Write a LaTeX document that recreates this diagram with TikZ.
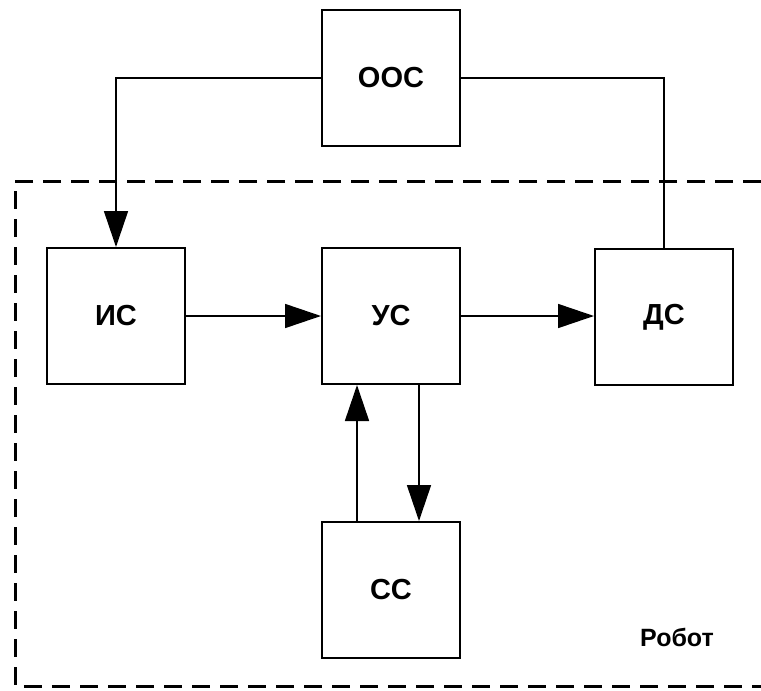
\documentclass[tikz,border=0pt]{standalone}
\usepackage{fontspec}
\setmainfont{Liberation Sans}
\usetikzlibrary{arrows.meta}
\begin{document}
\begin{tikzpicture}[x=0.5pt,y=-0.5pt,
  blk/.style={draw, line width=1pt, minimum width=69pt, minimum height=68pt, inner sep=0pt,
    font=\fontsize{14.5}{17}\selectfont\bfseries},
  conn/.style={line width=0.8pt},
  arr/.style={conn, -{Triangle[length=18pt,width=12pt]}},
  frame/.style={line width=1.5pt, dash pattern=on 9pt off 5pt}]
\useasboundingbox (0,0) rectangle (761,691);
\node[blk] (oos) at (391,78) {ООС};
\node[blk] (is) at (116,316) {ИС};
\node[blk] (us) at (391,316) {УС};
\node[blk] (ds) at (664,317) {ДС};
\node[blk] (cs) at (391,590) {СС};
\node[font=\fontsize{12.5}{15}\selectfont\bfseries, inner sep=0pt] (robot) at (677,637) {Робот};
\coordinate (ftr) at (761,181);
\coordinate (ftl) at (15,181);
\coordinate (fbl) at (15,686);
\coordinate (fbr) at (761,686);
\draw[frame] (ftr) -- (ftl) -- (fbl) -- (fbr);
\draw[arr] (oos.west) -| (is.north);
\draw[conn] (oos.east) -| (ds.north);
\draw[arr] (is.east) -- (us.west);
\draw[arr] (us.east) -- (ds.west |- us.east);
\draw[arr] ([xshift=-17pt]cs.north) -- ([xshift=-17pt]us.south);
\draw[arr] ([xshift=14pt]us.south) -- ([xshift=14pt]cs.north);
\end{tikzpicture}
\end{document}
